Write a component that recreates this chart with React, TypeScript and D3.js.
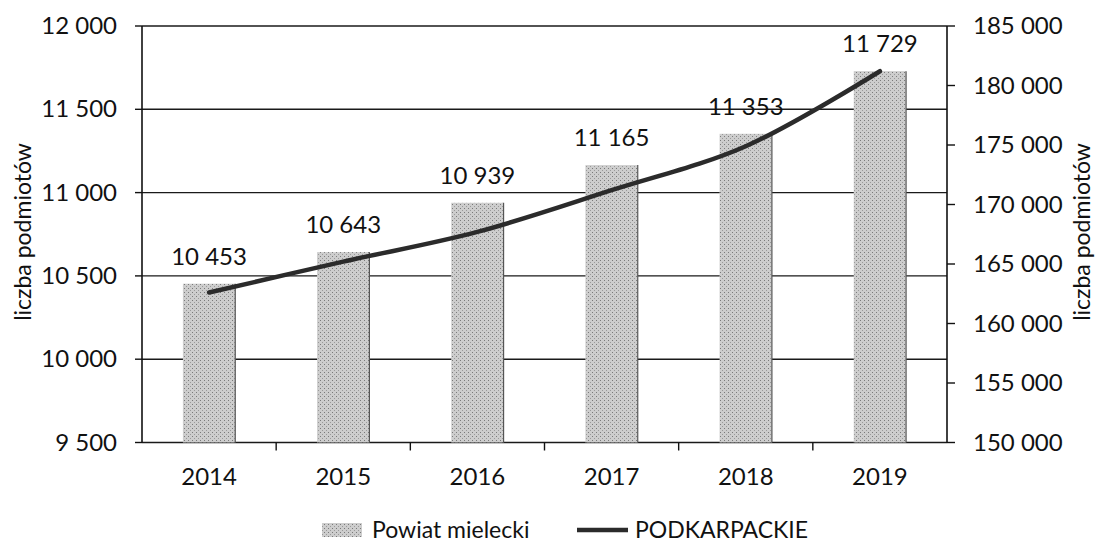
import React, { useEffect, useRef } from 'react';
import * as d3 from 'd3';

const years = ['2014', '2015', '2016', '2017', '2018', '2019'];
const powiatValues = [10453, 10643, 10939, 11165, 11353, 11729];
const podkarpackieValues = [162600, 165200, 167700, 171200, 174900, 181200];
const leftTicks = [9500, 10000, 10500, 11000, 11500, 12000];
const rightTicks = [150000, 155000, 160000, 165000, 170000, 175000, 180000, 185000];
const axisTitle = 'liczba podmiotów';
const seriesNames = ['Powiat mielecki', 'PODKARPACKIE'];

const FONT = 'Lato, "Open Sans", sans-serif';
const fmt = (v: number) => d3.format(',')(v).replace(/,/g, ' ');

const App = () => {
  const svgRef = useRef<SVGSVGElement>(null);

  useEffect(() => {
    const svg = d3.select(svgRef.current);
    svg.selectAll('*').remove();

    const left = 142, right = 947, top = 26, bottom = 442.5;

    const x = d3.scaleBand()
      .domain(years)
      .range([left, right])
      .paddingInner(0.61)
      .paddingOuter(0.305);
    const step = x.step();
    const cx = (d: string) => (x(d) as number) + x.bandwidth() / 2;

    const yL = d3.scaleLinear().domain([9500, 12000]).range([bottom, top]);
    const yR = d3.scaleLinear().domain([150000, 185000]).range([bottom, top]);

    // stipple pattern for the bars
    const defs = svg.append('defs');
    const pat = defs.append('pattern')
      .attr('id', 'stip')
      .attr('width', 4).attr('height', 4)
      .attr('patternUnits', 'userSpaceOnUse');
    pat.append('rect').attr('width', 4).attr('height', 4).attr('fill', '#cdcdcd');
    pat.append('rect').attr('x', 0).attr('y', 0).attr('width', 1).attr('height', 1).attr('fill', '#7a7a7a');
    pat.append('rect').attr('x', 2).attr('y', 2).attr('width', 1).attr('height', 1).attr('fill', '#9a9a9a');

    // gridlines
    svg.selectAll('line.grid')
      .data(leftTicks)
      .enter()
      .append('line')
      .attr('class', 'grid')
      .attr('x1', left).attr('x2', right)
      .attr('y1', d => yL(d)).attr('y2', d => yL(d))
      .attr('stroke', '#1a1a1a')
      .attr('stroke-width', 1.4);

    // bars
    svg.selectAll('rect.bar')
      .data(years)
      .enter()
      .append('rect')
      .attr('class', 'bar')
      .attr('x', d => x(d) as number)
      .attr('y', (d, i) => yL(powiatValues[i]))
      .attr('width', x.bandwidth())
      .attr('height', (d, i) => bottom - yL(powiatValues[i]))
      .attr('fill', 'url(#stip)');

    // bar right edges (darker)
    svg.selectAll('line.edge')
      .data(years)
      .enter()
      .append('line')
      .attr('x1', d => (x(d) as number) + x.bandwidth())
      .attr('x2', d => (x(d) as number) + x.bandwidth())
      .attr('y1', (d, i) => yL(powiatValues[i]))
      .attr('y2', bottom)
      .attr('stroke', '#555')
      .attr('stroke-width', 1.2);

    // axes lines
    svg.append('line')
      .attr('x1', left).attr('x2', left).attr('y1', top).attr('y2', bottom)
      .attr('stroke', '#111').attr('stroke-width', 1.6);
    svg.append('line')
      .attr('x1', right).attr('x2', right).attr('y1', top).attr('y2', bottom)
      .attr('stroke', '#111').attr('stroke-width', 1.6);

    // left ticks + labels
    svg.selectAll('line.lt')
      .data(leftTicks)
      .enter()
      .append('line')
      .attr('x1', left - 7).attr('x2', left)
      .attr('y1', d => yL(d)).attr('y2', d => yL(d))
      .attr('stroke', '#111').attr('stroke-width', 1.4);
    svg.selectAll('text.lt')
      .data(leftTicks)
      .enter()
      .append('text')
      .attr('x', 117)
      .attr('y', d => yL(d) + 8)
      .attr('text-anchor', 'end')
      .attr('font-family', FONT)
      .attr('font-size', 24)
      .attr('fill', '#111')
      .text(d => fmt(d));

    // right ticks + labels
    svg.selectAll('line.rt')
      .data(rightTicks)
      .enter()
      .append('line')
      .attr('x1', right).attr('x2', right + 8)
      .attr('y1', d => yR(d)).attr('y2', d => yR(d))
      .attr('stroke', '#111').attr('stroke-width', 1.4);
    svg.selectAll('text.rt')
      .data(rightTicks)
      .enter()
      .append('text')
      .attr('x', 973)
      .attr('y', d => yR(d) + 8)
      .attr('text-anchor', 'start')
      .attr('font-family', FONT)
      .attr('font-size', 24)
      .attr('fill', '#111')
      .text(d => fmt(d));

    // x ticks at category boundaries
    svg.selectAll('line.xt')
      .data(d3.range(1, years.length))
      .enter()
      .append('line')
      .attr('x1', d => left + d * step).attr('x2', d => left + d * step)
      .attr('y1', bottom).attr('y2', bottom + 8)
      .attr('stroke', '#111').attr('stroke-width', 1.4);
    svg.selectAll('text.xl')
      .data(years)
      .enter()
      .append('text')
      .attr('x', d => cx(d))
      .attr('y', 485)
      .attr('text-anchor', 'middle')
      .attr('font-family', FONT)
      .attr('font-size', 24)
      .attr('fill', '#111')
      .text(d => d);

    // axis titles
    svg.append('text')
      .attr('transform', 'translate(31,232) rotate(-90)')
      .attr('text-anchor', 'middle')
      .attr('font-family', FONT)
      .attr('font-size', 23)
      .attr('fill', '#111')
      .text(axisTitle);
    svg.append('text')
      .attr('transform', 'translate(1090,232) rotate(-90)')
      .attr('text-anchor', 'middle')
      .attr('font-family', FONT)
      .attr('font-size', 23)
      .attr('fill', '#111')
      .text(axisTitle);

    // line series
    const line = d3.line<number>()
      .x((d, i) => cx(years[i]))
      .y(d => yR(d))
      .curve(d3.curveCatmullRom.alpha(0.5));
    svg.append('path')
      .datum(podkarpackieValues)
      .attr('d', line)
      .attr('fill', 'none')
      .attr('stroke', '#2b2b2b')
      .attr('stroke-width', 4.5)
      .attr('stroke-linecap', 'round');

    // value labels
    svg.selectAll('text.value')
      .data(years)
      .enter()
      .append('text')
      .attr('x', d => cx(d))
      .attr('y', (d, i) => yL(powiatValues[i]) - 19)
      .attr('text-anchor', 'middle')
      .attr('font-family', FONT)
      .attr('font-size', 24)
      .attr('fill', '#111')
      .text((d, i) => fmt(powiatValues[i]));

    // legend
    const lg = svg.append('g');
    lg.append('rect')
      .attr('x', 322).attr('y', 523).attr('width', 40).attr('height', 14)
      .attr('fill', 'url(#stip)');
    lg.append('text')
      .attr('x', 372).attr('y', 538)
      .attr('font-family', FONT).attr('font-size', 23).attr('fill', '#111')
      .text(seriesNames[0]);
    lg.append('line')
      .attr('x1', 577).attr('x2', 628).attr('y1', 530).attr('y2', 530)
      .attr('stroke', '#2b2b2b').attr('stroke-width', 4.5);
    lg.append('text')
      .attr('x', 635).attr('y', 538)
      .attr('font-family', FONT).attr('font-size', 23).attr('fill', '#111')
      .text(seriesNames[1]);
  }, []);

  return (
    <svg
      ref={svgRef}
      width={1096}
      height={542}
      style={{ position: 'absolute', left: 0, top: 0, background: '#fff' }}
    />
  );
};

export default App;
